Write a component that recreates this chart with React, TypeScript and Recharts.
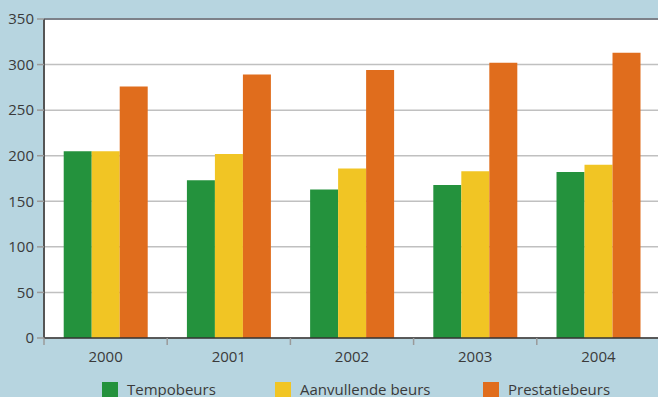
import React from "react"
import { Bar, BarChart, CartesianGrid, Legend, ReferenceLine, XAxis, YAxis } from "recharts"

const years = ["2000", "2001", "2002", "2003", "2004"]
const tempobeurs = [205, 173, 163, 168, 182]
const aanvullendeBeurs = [205, 202, 186, 183, 190]
const prestatiebeurs = [276, 289, 294, 302, 313]
const yTicks = [0, 50, 100, 150, 200, 250, 300, 350]

const series = [
  { key: "tempo", name: "Tempobeurs", color: "#24923d", values: tempobeurs },
  { key: "aanv", name: "Aanvullende beurs", color: "#f1c524", values: aanvullendeBeurs },
  { key: "prest", name: "Prestatiebeurs", color: "#e06d1d", values: prestatiebeurs },
]

const data = years.map((year, i) => ({
  year,
  tempo: tempobeurs[i],
  aanv: aanvullendeBeurs[i],
  prest: prestatiebeurs[i],
}))

const FONT = "'Open Sans', 'DejaVu Sans', sans-serif"
const TEXT = "#3a3a3a"

// ticks sit on the category borders, labels in the middle
function YearTick(props: any) {
  const { x, y, payload, index, width } = props
  const band = (width ?? 615) / years.length
  const left = x - band / 2
  return (
    <g>
      <line x1={left} x2={left} y1={y - 8} y2={y - 1} stroke="#9a9a9a" strokeWidth={1.5} />
      {index === years.length - 1 && (
        <line x1={left + band} x2={left + band} y1={y - 8} y2={y - 1} stroke="#9a9a9a" strokeWidth={1.5} />
      )}
      <text x={x} y={y + 16} textAnchor="middle" fill={TEXT} fontSize={15} fontFamily={FONT}>
        {payload.value}
      </text>
    </g>
  )
}

const legendX = [102, 275, 483]

function LegendBox() {
  return (
    <div style={{ position: "relative", height: 21, width: 658 }}>
      {series.map((s, i) => (
        <div key={s.key} style={{ position: "absolute", left: legendX[i], top: 6, display: "flex", alignItems: "flex-start" }}>
          <span style={{ width: 16, height: 16, background: s.color, display: "inline-block" }} />
          <span style={{ marginLeft: 9, fontSize: 15, color: TEXT, fontFamily: FONT, lineHeight: "14px" }}>{s.name}</span>
        </div>
      ))}
    </div>
  )
}

export default function App() {
  return (
    <div style={{ position: "absolute", left: 0, top: 0, width: 658, height: 397, overflow: "hidden", background: "#b7d5e0" }}>
      <BarChart
        width={658}
        height={397}
        data={data}
        margin={{ top: 19, right: -2, left: 0, bottom: 0 }}
        barCategoryGap="16%"
        barGap={0}
      >
        <CartesianGrid vertical={false} fill="#ffffff" stroke="#c0c0c0" strokeWidth={1.5} />
        <XAxis
          dataKey="year"
          height={38}
          tickLine={false}
          axisLine={{ stroke: "#333", strokeWidth: 1.5 }}
          tick={<YearTick />}
          interval={0}
        />
        <YAxis
          width={44}
          domain={[0, 350]}
          ticks={yTicks}
          interval={0}
          tickSize={7}
          tickMargin={3}
          tickLine={{ stroke: "#9a9a9a", strokeWidth: 1.5 }}
          axisLine={{ stroke: "#555", strokeWidth: 2 }}
          tick={{ fill: TEXT, fontSize: 15, fontFamily: FONT }}
        />
        <ReferenceLine y={350} stroke="#7d8189" strokeWidth={2} />
        <Legend verticalAlign="bottom" wrapperStyle={{ left: 0, width: 658, height: 21 }} content={() => <LegendBox />} />
        {series.map(s => (
          <Bar key={s.key} dataKey={s.key} name={s.name} fill={s.color} isAnimationActive={false} />
        ))}
      </BarChart>
    </div>
  )
}
